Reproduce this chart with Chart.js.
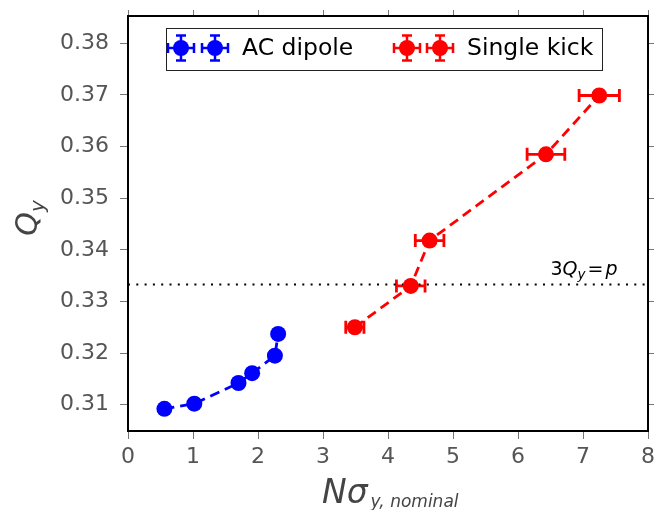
<!DOCTYPE html>
<html lang="en">
<head>
  <meta charset="UTF-8" />
  <title>Qy vs N sigma</title>
  <script src="https://cdn.jsdelivr.net/npm/chart.js"></script>
  <style>
    html, body {
      margin: 0;
      padding: 0;
      background: #fff;
    }
    .chart-container {
      position: relative;
      width: 665px;
      height: 510px;
    }
  </style>
</head>
<body>
  <div class="chart-container">
    <canvas id="chart"></canvas>
  </div>
  <script>
    // values
    const acX = [0.56, 1.02, 1.70, 1.91, 2.26, 2.31];
    const acY = [0.3092, 0.3102, 0.3142, 0.3161, 0.3195, 0.3237];
    const acXErr = [0.04, 0.04, 0.04, 0.04, 0.04, 0.04];

    const kickX = [3.49, 4.35, 4.64, 6.43, 7.25];
    const kickY = [0.3250, 0.3330, 0.3418, 0.3585, 0.3699];
    const kickXErr = [0.14, 0.22, 0.22, 0.29, 0.31];

    const resonanceQ = 0.3333;
    const xTicks = [0, 1, 2, 3, 4, 5, 6, 7, 8];
    const yTicks = [0.31, 0.32, 0.33, 0.34, 0.35, 0.36, 0.37, 0.38];
    const legendLabels = ['AC dipole', 'Single kick'];

    const BLUE = '#0000ff';
    const RED = '#ff0000';
    const FONT = "'DejaVu Sans', sans-serif";
    Chart.defaults.font.family = FONT;

    const toPoints = (xs, ys) => xs.map((x, i) => ({ x: x, y: ys[i] }));

    // error bars, legend box, axis titles and the resonance label
    const decor = {
      id: 'decor',
      beforeDatasetsDraw(chart) {
        const ctx = chart.ctx;
        const xs = chart.scales.x, ys = chart.scales.y;
        const sets = [[acX, acY, acXErr, BLUE], [kickX, kickY, kickXErr, RED]];
        ctx.save();
        ctx.lineWidth = 2.8;
        sets.forEach(([px, py, err, col]) => {
          ctx.strokeStyle = col;
          px.forEach((v, i) => {
            const x0 = xs.getPixelForValue(v - err[i]);
            const x1 = xs.getPixelForValue(v + err[i]);
            const y = ys.getPixelForValue(py[i]);
            ctx.beginPath();
            ctx.moveTo(x0, y); ctx.lineTo(x1, y);
            ctx.moveTo(x0, y - 6.5); ctx.lineTo(x0, y + 6.5);
            ctx.moveTo(x1, y - 6.5); ctx.lineTo(x1, y + 6.5);
            ctx.stroke();
          });
        });
        ctx.restore();
      },
      afterDraw(chart) {
        const ctx = chart.ctx;
        const xs = chart.scales.x, ys = chart.scales.y;
        ctx.save();

        // legend
        ctx.fillStyle = '#fff';
        ctx.fillRect(166, 28, 436, 42);
        ctx.strokeStyle = '#222';
        ctx.lineWidth = 1;
        ctx.strokeRect(166.5, 28.5, 436, 42);
        const marker = (cx, cy, col) => {
          ctx.strokeStyle = col;
          ctx.fillStyle = col;
          ctx.lineWidth = 2.5;
          ctx.beginPath();
          ctx.moveTo(cx - 13, cy); ctx.lineTo(cx + 13, cy);
          ctx.moveTo(cx, cy - 12.5); ctx.lineTo(cx, cy + 12.5);
          ctx.moveTo(cx - 13, cy - 5); ctx.lineTo(cx - 13, cy + 5);
          ctx.moveTo(cx + 13, cy - 5); ctx.lineTo(cx + 13, cy + 5);
          ctx.moveTo(cx - 5, cy - 12.5); ctx.lineTo(cx + 5, cy - 12.5);
          ctx.moveTo(cx - 5, cy + 12.5); ctx.lineTo(cx + 5, cy + 12.5);
          ctx.stroke();
          ctx.beginPath();
          ctx.arc(cx, cy, 8, 0, Math.PI * 2);
          ctx.fill();
        };
        marker(181, 48, BLUE); marker(215, 48, BLUE);
        marker(407, 48, RED); marker(440, 48, RED);
        ctx.fillStyle = '#000';
        ctx.font = '23.5px ' + FONT;
        ctx.textBaseline = 'middle';
        ctx.fillText(legendLabels[0], 242, 49);
        ctx.fillText(legendLabels[1], 467, 49);

        // resonance label 3Q_y = p
        ctx.textBaseline = 'alphabetic';
        let tx = xs.getPixelForValue(6.5);
        const ty = ys.getPixelForValue(resonanceQ) - 9;
        const part = (txt, font, dy, gap) => {
          ctx.font = font;
          ctx.fillText(txt, tx, ty + dy);
          tx += ctx.measureText(txt).width + gap;
        };
        part('3', '19px ' + FONT, 0, 0);
        part('Q', 'italic 19px ' + FONT, 0, 0);
        part('y', 'italic 13.5px ' + FONT, 4, 2);
        part('=', '19px ' + FONT, 0, 2);
        part('p', 'italic 19px ' + FONT, 0, 0);

        // axis titles
        ctx.fillStyle = '#444';
        ctx.save();
        ctx.translate(37, 218);
        ctx.rotate(-Math.PI / 2);
        ctx.font = 'italic 30px ' + FONT;
        const qw = ctx.measureText('Q').width;
        ctx.font = 'italic 20px ' + FONT;
        const yw = ctx.measureText('y').width;
        const ox = -(qw + yw) / 2;
        ctx.font = 'italic 30px ' + FONT;
        ctx.fillText('Q', ox, 0);
        ctx.font = 'italic 20px ' + FONT;
        ctx.fillText('y', ox + qw, 7);
        ctx.restore();

        ctx.font = 'italic 33px ' + FONT;
        ctx.fillText('N\u03c3', 322, 503);
        const nw = ctx.measureText('N\u03c3').width;
        ctx.font = 'italic 17px ' + FONT;
        ctx.fillText('y, nominal', 322 + nw + 3, 507);

        ctx.restore();
      }
    };

    const tickGrid = { display: true, drawOnChartArea: false, drawTicks: true, tickLength: 8, color: '#777', lineWidth: 1 };
    const frame = { display: true, color: '#000', width: 2 };

    new Chart(document.getElementById('chart'), {
      type: 'scatter',
      data: {
        datasets: [
          {
            label: legendLabels[0],
            data: toPoints(acX, acY),
            showLine: true,
            borderColor: BLUE,
            backgroundColor: BLUE,
            borderWidth: 2.8,
            borderDash: [10, 6],
            pointRadius: 8,
            pointBorderWidth: 0,
            order: 0
          },
          {
            label: legendLabels[1],
            data: toPoints(kickX, kickY),
            showLine: true,
            borderColor: RED,
            backgroundColor: RED,
            borderWidth: 2.8,
            borderDash: [10, 6],
            pointRadius: 8,
            pointBorderWidth: 0,
            order: 0
          },
          {
            label: '3Qy=p',
            data: [{ x: xTicks[0], y: resonanceQ }, { x: xTicks[xTicks.length - 1], y: resonanceQ }],
            showLine: true,
            borderColor: '#000',
            borderWidth: 2,
            borderDash: [2, 6.3],
            pointRadius: 0,
            order: 2
          }
        ]
      },
      options: {
        responsive: true,
        maintainAspectRatio: false,
        animation: false,
        layout: { padding: 0 },
        scales: {
          x: {
            type: 'linear',
            position: 'bottom',
            min: 0,
            max: 8,
            afterFit: s => { s.height = 79; s.paddingLeft = 0; s.paddingRight = 0; },
            afterBuildTicks: s => { s.ticks = xTicks.map(v => ({ value: v })); },
            grid: tickGrid,
            border: frame,
            ticks: { color: '#555', font: { size: 22 }, padding: 5, maxRotation: 0 }
          },
          x2: {
            type: 'linear',
            position: 'top',
            min: 0,
            max: 8,
            afterFit: s => { s.height = 16; s.paddingLeft = 0; s.paddingRight = 0; },
            afterBuildTicks: s => { s.ticks = xTicks.map(v => ({ value: v })); },
            grid: { ...tickGrid, tickLength: 6 },
            border: frame,
            ticks: { display: false }
          },
          y: {
            type: 'linear',
            position: 'left',
            min: 0.3049,
            max: 0.3853,
            afterFit: s => { s.width = 128; s.paddingTop = 0; s.paddingBottom = 0; },
            afterBuildTicks: s => { s.ticks = yTicks.map(v => ({ value: v })); },
            grid: tickGrid,
            border: frame,
            ticks: { color: '#555', font: { size: 22 }, padding: 11, callback: v => v.toFixed(2) }
          },
          y2: {
            type: 'linear',
            position: 'right',
            min: 0.3049,
            max: 0.3853,
            afterFit: s => { s.width = 17; s.paddingTop = 0; s.paddingBottom = 0; },
            afterBuildTicks: s => { s.ticks = yTicks.map(v => ({ value: v })); },
            grid: { ...tickGrid, tickLength: 6 },
            border: frame,
            ticks: { display: false }
          }
        },
        plugins: {
          legend: { display: false },
          tooltip: { enabled: false }
        }
      },
      plugins: [decor]
    });
  </script>
</body>
</html>
